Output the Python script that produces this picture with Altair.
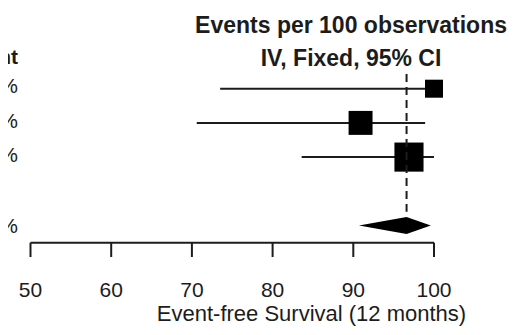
import altair as alt
import pandas as pd

# ---- data ----
studies = ["Study 1", "Study 2", "Study 3"]
estimate = [100.0, 90.9, 96.9]
lower = [73.5, 70.6, 83.6]
upper = [100.0, 98.9, 100.0]
weights = [18.6, 32.9, 48.5]
weight_labels = ["18.6%", "32.9%", "48.5%"]

pooled_est = 96.6
pooled_lo = 90.7
pooled_hi = 99.6
pooled_label = "100.0%"

tick_values = [50, 60, 70, 80, 90, 100]
header_lines = ["Events per 100 observations", "IV, Fixed, 95% CI"]
weight_header = "Weight"
x_title = "Event-free Survival (12 months)"

# ---- layout (rows) ----
W, H = 508, 319
XDOM = [47.212, 110.161]
YDOM = [-1.3596, 7.968]
study_rows = [1, 2, 3]
pooled_row = 5
axis_row = 5.503
tick_bottom = 5.921
ticklabel_row = 7.082
title_row = 7.80
header_rows = [-0.643, 0.322]
dash_top, dash_bottom = 0.57, 4.596
diamond_half = 0.249
label_x = 48.45
header_x = 89.72
title_x = 84.82

xs = alt.Scale(domain=XDOM, nice=False, zero=False)
ys = alt.Scale(domain=YDOM, nice=False, zero=False, reverse=True)
INK = "#1c1c1c"
FONT = "Liberation Sans"


def X(field):
    return alt.X(field, type="quantitative", scale=xs, axis=None)


def Y(field):
    return alt.Y(field, type="quantitative", scale=ys, axis=None)


df = pd.DataFrame({
    "study": studies, "est": estimate, "lo": lower, "hi": upper,
    "w": weights, "wl": weight_labels, "row": study_rows,
})
df["lrow"] = df["row"] + 0.14
df["x"] = label_x

ci = alt.Chart(df).mark_rule(color=INK, strokeWidth=2).encode(
    x=X("lo"), x2="hi", y=Y("row"))

boxes = alt.Chart(df).mark_square(color="black", opacity=1, strokeWidth=0).encode(
    x=X("est"), y=Y("row"),
    size=alt.Size("w:Q", scale=alt.Scale(domain=[0, 100], range=[0, 1746]), legend=None))

dia = pd.DataFrame({
    "x": [pooled_lo, pooled_est, pooled_hi],
    "y": [pooled_row, pooled_row - diamond_half, pooled_row],
    "y2": [pooled_row, pooled_row + diamond_half, pooled_row],
})
diamond = alt.Chart(dia).mark_area(color="black", opacity=1, orient="vertical").encode(
    x=X("x"), y=Y("y"), y2="y2")

dash = alt.Chart(pd.DataFrame({"x": [pooled_est], "a": [dash_top], "b": [dash_bottom]})).mark_rule(
    color=INK, strokeWidth=2, strokeDash=[8, 5]).encode(x=X("x"), y=Y("a"), y2="b")

axis_line = alt.Chart(pd.DataFrame({"a": [tick_values[0]], "b": [tick_values[-1]], "y": [axis_row]})).mark_rule(
    color=INK, strokeWidth=2).encode(x=X("a"), x2="b", y=Y("y"))

tdf = pd.DataFrame({"t": tick_values, "a": axis_row, "b": tick_bottom, "ly": ticklabel_row})
ticks = alt.Chart(tdf).mark_rule(color=INK, strokeWidth=2).encode(x=X("t"), y=Y("a"), y2="b")
tick_labels = alt.Chart(tdf).mark_text(font=FONT, fontSize=21, color=INK, align="center",
                                       baseline="alphabetic").encode(
    x=X("t"), y=Y("ly"), text="t:Q")

title = alt.Chart(pd.DataFrame({"x": [title_x], "y": [title_row], "s": [x_title]})).mark_text(
    font=FONT, fontSize=22, color=INK, align="center", baseline="alphabetic").encode(
    x=X("x"), y=Y("y"), text="s:N")

hdf = pd.DataFrame({"x": header_x, "y": header_rows, "s": header_lines})
header = alt.Chart(hdf).mark_text(font=FONT, fontSize=23, fontWeight="bold", color=INK,
                                  align="center", baseline="alphabetic").encode(
    x=X("x"), y=Y("y"), text="s:N")

wh = alt.Chart(pd.DataFrame({"x": [label_x], "y": [header_rows[1] - 0.03], "s": [weight_header]})).mark_text(
    font=FONT, fontSize=21, fontWeight="bold", color=INK, align="right", baseline="alphabetic").encode(
    x=X("x"), y=Y("y"), text="s:N")

wl = alt.Chart(df).mark_text(font=FONT, fontSize=21, color=INK, align="right",
                             baseline="alphabetic").encode(
    x=X("x"), y=Y("lrow"), text="wl:N")

tot = alt.Chart(pd.DataFrame({"x": [label_x], "y": [pooled_row + 0.22], "s": [pooled_label]})).mark_text(
    font=FONT, fontSize=21, color=INK, align="right", baseline="alphabetic").encode(
    x=X("x"), y=Y("y"), text="s:N")

chart = alt.layer(ci, boxes, diamond, dash, axis_line, ticks, tick_labels, title, header, wh, wl, tot).properties(
    width=W, height=H, autosize=alt.AutoSizeParams(type="none"), padding=0, background="white"
).configure_view(stroke=None)

chart.save("out.html", embed_options={"renderer": "svg", "actions": False})
